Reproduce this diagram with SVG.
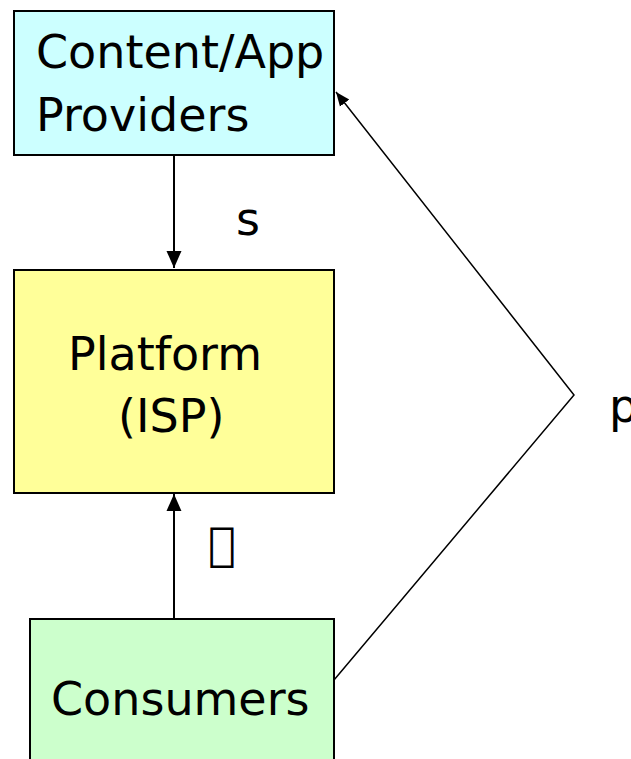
<svg xmlns="http://www.w3.org/2000/svg" width="631" height="759" viewBox="0 0 631 759">
<defs>
<marker id="ahb" viewBox="0 0 10 10" refX="10" refY="5" markerWidth="17" markerHeight="17" markerUnits="userSpaceOnUse" orient="auto">
<path d="M0,0.6 L10,5 L0,9.4 z" fill="#000"/>
</marker>
<marker id="ahs" viewBox="0 0 10 10" refX="10" refY="5" markerWidth="14" markerHeight="14" markerUnits="userSpaceOnUse" orient="auto">
<path d="M0,0.8 L10,5 L0,9.2 z" fill="#000"/>
</marker>
</defs>
<style>
.box{stroke:#000;stroke-width:2}
.t{font-family:"DejaVu Sans",Verdana,sans-serif;font-size:46px;fill:#000}
.c{stroke:#000;stroke-width:2;fill:none}
.c1{stroke:#000;stroke-width:1.5;fill:none}
</style>
<rect width="631" height="759" fill="#fff"/>
<g id="providers">
<rect class="box" x="14" y="11" width="320" height="144" fill="#CCFFFF"/>
<text class="t" x="36" y="68">Content/App</text>
<text class="t" x="36" y="131">Providers</text>
</g>
<g id="platform">
<rect class="box" x="14" y="270" width="320" height="223" fill="#FFFF99"/>
<text class="t" x="68" y="370">Platform</text>
<text class="t" x="118" y="432">(ISP)</text>
</g>
<g id="consumers">
<rect class="box" x="30" y="619" width="304" height="150" fill="#CCFFCC"/>
<text class="t" x="51" y="715">Consumers</text>
</g>
<g id="connectors">
<line class="c" x1="174" y1="155" x2="174" y2="268" marker-end="url(#ahb)"/>
<line class="c" x1="174" y1="619" x2="174" y2="494" marker-end="url(#ahb)"/>
<polyline class="c1" points="334,680 574,395 336,92" marker-end="url(#ahs)"/>
</g>
<g id="labels">
<text class="t" x="236" y="235">s</text>
<text class="t" x="208" y="560">&#xF061;</text>
<text class="t" x="609" y="422">p</text>
</g>
</svg>
